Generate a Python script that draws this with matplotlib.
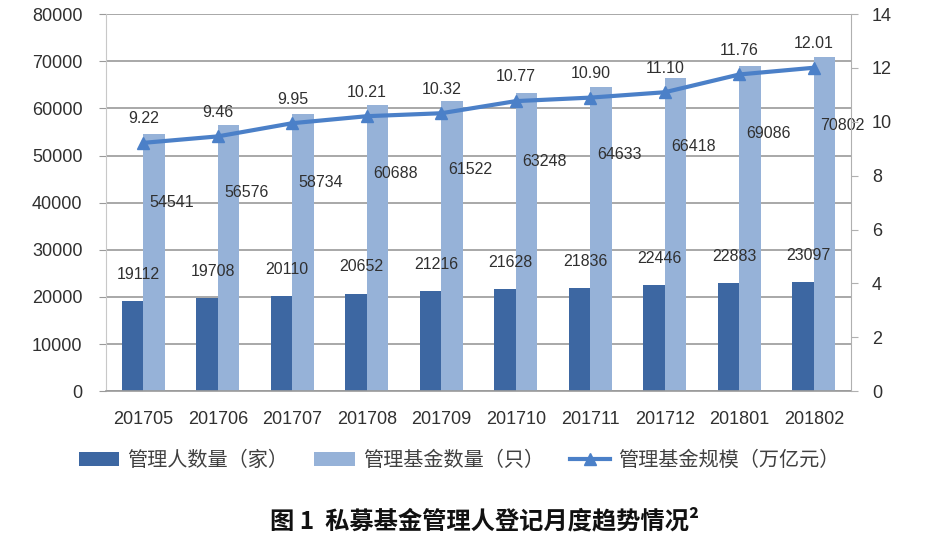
import numpy as np
import matplotlib
matplotlib.use('Agg')
import matplotlib.pyplot as plt

plt.rcParams['font.family'] = ['Liberation Sans', 'Noto Sans CJK SC', 'DejaVu Sans']

# данные
months = ['201705', '201706', '201707', '201708', '201709',
          '201710', '201711', '201712', '201801', '201802']
managers = [19112, 19708, 20110, 20652, 21216, 21628, 21836, 22446, 22883, 23097]
funds = [54541, 56576, 58734, 60688, 61522, 63248, 64633, 66418, 69086, 70802]
scale = [9.22, 9.46, 9.95, 10.21, 10.32, 10.77, 10.90, 11.10, 11.76, 12.01]

legend_names = ['管理人数量（家）', '管理基金数量（只）', '管理基金规模（万亿元）']
title = '图 1  私募基金管理人登记月度趋势情况²'

dark = '#3d67a2'
light = '#96b2d8'
line_c = '#4b80c8'
grid_c = '#9a9a9a'
txt_c = '#303030'

fig = plt.figure(figsize=(9.51, 5.44), dpi=100)
ax = fig.add_axes([0.1115, 0.281, 0.7835, 0.693])
ax2 = ax.twinx()

x = np.arange(len(months))
w = 0.29
b1 = ax.bar(x - w / 2, managers, w, color=dark, zorder=2, label=legend_names[0])
b2 = ax.bar(x + w / 2, funds, w, color=light, zorder=2, label=legend_names[1])
ln, = ax2.plot(x, scale, color=line_c, lw=3, marker='^', ms=9, zorder=3,
               label=legend_names[2])

ax.set_xlim(-0.5, len(months) - 0.5)
ax.set_ylim(0, 80000)
ax.set_yticks(np.arange(0, 80001, 10000))
ax2.set_ylim(0, 14)
ax2.set_yticks(np.arange(0, 15, 2))
ax.set_xticks(x)
ax.set_xticklabels(months)

ax.yaxis.grid(True, color=grid_c, lw=1.2, zorder=0)
for s in ['top', 'right']:
    ax.spines[s].set_visible(False)
for s in ['top', 'left', 'bottom']:
    ax2.spines[s].set_visible(False)
ax.spines['left'].set_color('#c8c8c8')
ax.spines['bottom'].set_color(grid_c)
ax.spines['bottom'].set_linewidth(1.2)
ax2.spines['right'].set_color('#b0b0b0')

ax.tick_params(axis='x', length=0, pad=14, labelsize=13, labelcolor=txt_c)
ax.tick_params(axis='y', length=5, color=grid_c, pad=12, labelsize=13, labelcolor=txt_c)
ax2.tick_params(axis='y', length=5, color='#b0b0b0', pad=10, labelsize=13, labelcolor=txt_c)

# подписи значений
for i in range(len(months)):
    ax.annotate(str(managers[i]), (x[i] - w / 2, managers[i]), xytext=(4, 14),
                textcoords='offset points', ha='center', va='bottom',
                fontsize=11.5, color=txt_c)
    ax.annotate(str(funds[i]), (x[i] + w / 2, funds[i] - 14500), xytext=(13, 0),
                textcoords='offset points', ha='center', va='center',
                fontsize=11.5, color=txt_c)
    ax2.annotate('%.2f' % scale[i], (x[i], scale[i]), xytext=(0, 12),
                 textcoords='offset points', ha='center', va='bottom',
                 fontsize=11.5, color=txt_c)

fig.legend(handles=[b1, b2, ln], loc='center', bbox_to_anchor=(0.483, 0.153),
           ncol=3, frameon=False, fontsize=14.5, handlelength=2.0,
           columnspacing=1.3, handletextpad=0.4, labelcolor='#404040')

fig.text(0.51, 0.042, title, ha='center', va='center', fontsize=17.5,
         fontweight='heavy', color='#111111',
         family=['Noto Sans CJK SC', 'DejaVu Sans'])

fig.savefig('out.png', dpi=100)
